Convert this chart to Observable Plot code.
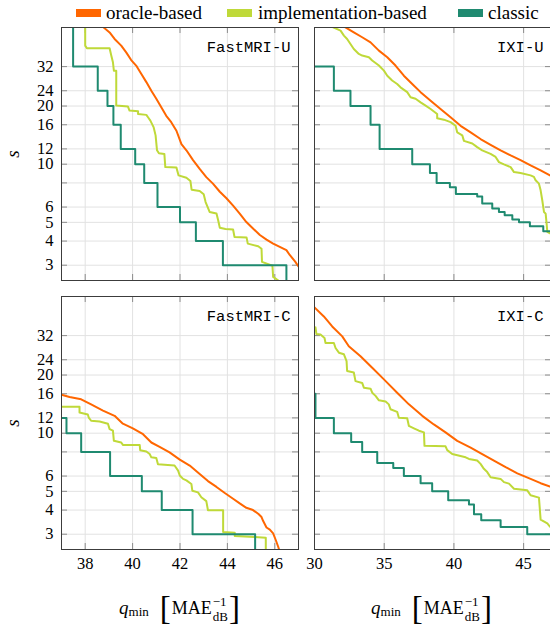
<!DOCTYPE html>
<html><head><meta charset="utf-8">
<script src="https://cdn.jsdelivr.net/npm/d3@7"></script>
<script src="https://cdn.jsdelivr.net/npm/@observablehq/plot@0.6"></script>
<style>
html,body{margin:0;padding:0;background:#fff;}
#root{position:relative;width:550px;height:627px;overflow:hidden;font-family:"Liberation Serif",serif;color:#000;}
.panel{position:absolute;}
svg.panel{font-family:"Liberation Serif",serif !important;font-size:16.5px !important;}
.sw{position:absolute;top:9px;width:25px;height:8px;}
.lt{position:absolute;top:2px;font-size:19px;line-height:21px;white-space:nowrap;}
.ylab{position:absolute;width:20px;height:20px;line-height:20px;text-align:center;font-style:italic;font-size:19px;transform:rotate(-90deg);}
.xlab{position:absolute;top:588px;height:40px;display:flex;align-items:center;white-space:nowrap;transform:translateX(-50%);font-size:18px;line-height:40px;}
.xlab .q{font-style:italic;font-size:19px;}
.xlab .sub{font-size:13px;position:relative;top:4px;margin-right:10px;}
.xlab .br{font-size:33px;font-weight:normal;margin:0 1px;}
.xlab .ss{display:inline-flex;flex-direction:column;font-size:13px;line-height:13px;margin-left:1px;}
.xlab .ss .sb{position:relative;top:2px;}
</style>
</head><body>
<div id="root"></div>
<script>
const methods = ["oracle-based", "implementation-based", "classic"];
const colors = ["#ff6600", "#bfd939", "#1f8a70"];
const yTicks = [3, 4, 5, 6, 8, 10, 12, 16, 20, 24, 32];
const sDomain = [2.5, 51];
const xTicksFast = [38, 40, 42, 44, 46];
const xTicksIXI = [30, 35, 40, 45];
const xDomainFast = [37, 47];
const xDomainIXI = [30, 47];

// FastMRI-U
const fastU_oracle_q = [38.77, 39.03, 39.24, 39.52, 39.73, 39.94, 40.15, 40.37, 40.58, 40.79, 41.00, 41.21, 41.42, 41.63, 41.85, 42.06, 42.27, 42.55, 42.83, 43.11, 43.39, 43.68, 43.96, 44.24, 44.52, 44.80, 45.08, 45.37, 45.65, 45.93, 46.21, 46.49, 46.63, 46.86, 47.0];
const fastU_oracle_s = [51.1, 48.1, 44.5, 41.1, 37.9, 34.6, 32.4, 29.3, 26.6, 24.0, 21.8, 19.7, 17.8, 16.5, 14.9, 12.7, 11.8, 10.5, 9.45, 8.57, 7.93, 7.2, 6.66, 6.1, 5.55, 5.02, 4.65, 4.3, 4.07, 3.88, 3.73, 3.59, 3.39, 3.13, 2.96];
const fastU_impl_q = [38.0, 38.0, 38.07, 39.03, 39.10, 39.17, 39.21, 39.31, 39.31, 39.80, 39.87, 40.23, 40.23, 40.58, 40.65, 40.75, 40.89, 40.97, 41.03, 41.11, 41.34, 41.38, 41.85, 41.94, 42.27, 42.44, 42.49, 42.83, 43.00, 43.08, 43.25, 43.54, 43.61, 43.68, 43.92, 44.24, 44.30, 44.81, 44.86, 45.30, 45.44, 45.46, 45.90, 45.93, 46.15];
const fastU_impl_s = [51, 41.1, 39.8, 39.8, 36.5, 33.7, 30.5, 30.5, 20.1, 19.9, 18.96, 18.8, 18.2, 18.0, 17.5, 16.8, 15.5, 14.1, 11.8, 11.4, 11.3, 9.66, 9.6, 8.75, 8.5, 8.18, 7.38, 7.27, 6.98, 6.37, 5.66, 5.55, 5.12, 4.69, 4.62, 4.59, 4.2, 4.17, 3.88, 3.76, 3.65, 3.12, 2.98, 2.61, 2.5];
const fastU_classic_q = [37.49, 37.49, 38.53, 38.94, 39.19, 39.50, 40.11, 40.49, 41.05, 42.0, 42.67, 43.81, 46.49];
const fastU_classic_s = [51, 32, 24, 20, 16, 12, 10, 8, 6, 5, 4, 3, 2.5];

// IXI-U
const ixiU_oracle_q = [32.22, 32.82, 33.42, 34.02, 34.62, 35.22, 35.81, 36.41, 37.01, 37.61, 38.33, 39.04, 39.76, 40.48, 41.20, 41.91, 42.63, 43.35, 44.07, 44.78, 45.50, 46.22, 46.89, 47.0];
const ixiU_oracle_s = [51.1, 48.1, 45.4, 42.7, 38.7, 35.8, 32.4, 28.7, 26.0, 23.6, 21.3, 19.3, 17.5, 15.8, 14.6, 13.5, 12.6, 11.8, 11.1, 10.5, 9.85, 9.28, 8.75, 8.68];
const ixiU_impl_q = [31.34, 31.87, 32.11, 32.34, 32.58, 32.82, 33.18, 33.42, 33.90, 34.14, 34.62, 34.98, 35.22, 35.57, 35.93, 36.17, 36.65, 36.89, 37.25, 37.61, 37.97, 38.33, 38.80, 38.80, 39.28, 39.76, 40.12, 40.24, 40.60, 40.72, 41.32, 41.67, 42.03, 42.63, 42.99, 43.23, 43.59, 44.07, 44.31, 44.78, 45.50, 45.74, 45.86, 46.10, 46.22, 46.34, 46.46, 46.58, 46.65, 46.70, 46.89, 47.0];
const ixiU_impl_s = [51.1, 49.1, 46.3, 44.5, 41.9, 39.5, 37.2, 36.5, 35.8, 34.4, 32.4, 30.5, 28.7, 27.1, 26.0, 25.0, 23.6, 22.2, 21.8, 20.9, 20.1, 19.3, 18.2, 17.3, 17.0, 16.5, 15.8, 14.6, 14.1, 13.2, 12.8, 12.25, 11.8, 11.3, 10.9, 10.25, 9.97, 9.66, 9.1, 9.0, 8.75, 8.6, 8.25, 7.93, 7.32, 6.49, 5.66, 5.55, 4.92, 4.46, 4.39, 4.39];
const ixiU_classic_q = [30, 31.39, 32.58, 34.02, 34.67, 37.01, 38.28, 38.76, 39.71, 40.14, 41.67, 42.03, 42.75, 43.23, 43.64, 44.19, 44.67, 45.45, 46.41, 47];
const ixiU_classic_s = [32, 24, 20, 16, 12, 10, 9, 8, 7.6, 7, 6.8, 6.25, 5.9, 5.66, 5.44, 5.17, 5, 4.77, 4.5, 4.5];

// FastMRI-C
const fastC_oracle_q = [37.0, 37.34, 37.83, 38.25, 38.75, 39.24, 39.59, 40.01, 40.44, 40.79, 41.14, 41.56, 41.99, 42.41, 42.83, 43.18, 43.54, 43.89, 44.24, 44.52, 44.80, 45.08, 45.30, 45.44, 45.51, 45.65, 45.79, 45.93, 46.04, 46.14, 46.18];
const fastC_oracle_s = [15.8, 15.4, 14.98, 14.1, 13.1, 12.3, 11.2, 10.6, 9.88, 8.95, 8.5, 7.95, 7.3, 6.8, 6.15, 5.65, 5.27, 4.9, 4.58, 4.33, 4.11, 4.0, 3.83, 3.68, 3.51, 3.25, 3.17, 3.03, 2.8, 2.59, 2.5];
const fastC_impl_q = [37.0, 37.76, 37.76, 38.11, 38.15, 38.25, 38.61, 38.96, 39.03, 39.17, 39.21, 39.52, 39.59, 40.30, 40.32, 40.58, 40.72, 40.79, 41.00, 41.07, 41.77, 41.92, 41.99, 42.13, 42.27, 42.48, 42.52, 42.76, 42.90, 43.11, 43.18, 43.82, 43.82, 44.31, 44.31, 45.15, 45.62, 45.62];
const fastC_impl_s = [13.7, 13.7, 12.8, 12.5, 12.05, 11.6, 11.5, 11.2, 10.5, 10.3, 9.13, 8.95, 8.7, 8.7, 8.17, 8.04, 7.8, 7.5, 7.45, 6.9, 6.8, 6.4, 6.04, 5.8, 5.7, 5.46, 5.04, 4.94, 4.66, 4.45, 3.99, 3.99, 3.08, 3.05, 2.94, 2.9, 2.88, 2.5];
const fastC_classic_q = [37.0, 37.21, 37.83, 39.05, 40.39, 41.23, 42.53, 45.17];
const fastC_classic_s = [12, 10, 8, 6, 5, 4, 3, 2.5];

// IXI-C
const ixiC_oracle_q = [30.0, 30.67, 31.27, 31.99, 32.46, 33.30, 34.14, 34.98, 35.93, 36.77, 37.73, 38.56, 39.40, 40.24, 41.20, 42.03, 42.87, 43.71, 44.55, 45.50, 46.22, 46.89, 47.0];
const ixiC_oracle_s = [44.8, 40.2, 35.7, 31.7, 28.2, 25.0, 21.8, 19.0, 16.2, 14.1, 12.3, 11.1, 10.1, 9.13, 8.43, 7.8, 7.22, 6.67, 6.2, 5.8, 5.51, 5.3, 5.27];
const ixiC_impl_q = [30.07, 30.14, 30.43, 30.72, 30.79, 31.39, 31.51, 31.75, 32.11, 32.30, 32.34, 32.82, 32.94, 33.42, 33.54, 34.02, 34.14, 34.38, 34.62, 35.10, 35.33, 35.45, 35.93, 36.05, 36.65, 36.77, 37.13, 37.49, 37.85, 37.89, 39.40, 39.52, 39.88, 40.84, 41.08, 41.67, 41.91, 42.15, 42.39, 42.63, 43.35, 43.59, 43.95, 44.31, 45.26, 45.50, 46.10, 46.22, 46.70, 46.89, 47.0];
const ixiC_impl_s = [35.3, 32.6, 32.4, 31.1, 29.3, 29.3, 27.6, 26.1, 25.6, 23.6, 21.0, 20.6, 18.6, 18.2, 17.2, 17.0, 16.2, 15.6, 14.8, 14.6, 14.1, 13.3, 12.9, 12.03, 11.95, 10.9, 10.6, 10.3, 10.1, 8.6, 8.55, 8.17, 7.8, 7.5, 7.36, 7.22, 6.94, 6.54, 6.29, 5.92, 5.8, 5.58, 5.48, 5.16, 5.06, 4.77, 4.64, 3.57, 3.41, 3.28, 3.27];
const ixiC_classic_q = [30.07, 30.07, 31.39, 32.63, 33.42, 34.50, 35.65, 36.41, 37.61, 38.44, 39.59, 41.08, 41.44, 41.96, 43.35, 45.26, 47];
const ixiC_classic_s = [16, 12, 10, 9, 8, 7, 6.6, 6, 5.5, 5, 4.5, 4.28, 3.8, 3.54, 3.27, 3, 3];

const rows = (q, s) => q.map((v, i) => ({q: v, s: s[i]}));
const root = document.getElementById("root");
const FW = 237, FH = 253;

function panel(o) {
  const tickText = {tickSize: 0, tickPadding: 8, tickFormat: d => String(d), label: null, fill: "#000", fontFamily: "Liberation Serif", fontSize: 16.5};
  const marks = [
    Plot.gridX(o.xTicks, {stroke: "#e2e2e2", strokeOpacity: 1, strokeWidth: 1}),
    Plot.gridY(yTicks, {stroke: "#e2e2e2", strokeOpacity: 1, strokeWidth: 1}),
    Plot.ruleX(o.xTicks, {stroke: "#8c8c8c", insetTop: FH - 6}),
    Plot.ruleX(o.xTicks, {stroke: "#8c8c8c", insetBottom: FH - 6}),
    Plot.ruleY(yTicks, {stroke: "#8c8c8c", insetRight: FW - 6}),
    Plot.ruleY(yTicks, {stroke: "#8c8c8c", insetLeft: FW - 6}),
    Plot.line(rows(o.oq, o.os), {x: "q", y: "s", stroke: colors[0], strokeWidth: 2, clip: true}),
    Plot.line(rows(o.iq, o.is), {x: "q", y: "s", stroke: colors[1], strokeWidth: 2, clip: true}),
    Plot.line(rows(o.cq, o.cs), {x: "q", y: "s", stroke: colors[2], strokeWidth: 2, curve: "step-after", clip: true}),
    Plot.frame({stroke: "#3c3c3c", strokeWidth: 1}),
    Plot.text([o.label], {frameAnchor: "top-right", dx: -8, dy: 20, textAnchor: "end", lineAnchor: "middle", fontFamily: "Liberation Mono", fontSize: 15.5, fill: "#000"})
  ];
  if (o.showY) marks.push(Plot.axisY(yTicks, tickText));
  if (o.showX) marks.push(Plot.axisX(o.xTicks, tickText));
  const svg = Plot.plot({
    width: o.width, height: o.height,
    marginLeft: o.mL, marginRight: o.mR, marginTop: o.mT, marginBottom: o.mB,
    style: {background: "transparent", color: "#000", overflow: "visible"},
    x: {domain: o.xDomain, axis: null},
    y: {type: "log", domain: sDomain, axis: null},
    marks
  });
  svg.classList.add("panel");
  svg.style.left = o.left + "px";
  svg.style.top = o.top + "px";
  root.appendChild(svg);
}

panel({label: "FastMRI-U", left: 0, top: 0, width: 310, height: 290, mL: 61, mR: 12, mT: 27, mB: 10,
  xDomain: xDomainFast, xTicks: xTicksFast, showY: true, showX: false,
  oq: fastU_oracle_q, os: fastU_oracle_s, iq: fastU_impl_q, is: fastU_impl_s, cq: fastU_classic_q, cs: fastU_classic_s});
panel({label: "IXI-U", left: 300, top: 0, width: 251, height: 290, mL: 14, mR: 0, mT: 27, mB: 10,
  xDomain: xDomainIXI, xTicks: xTicksIXI, showY: false, showX: false,
  oq: ixiU_oracle_q, os: ixiU_oracle_s, iq: ixiU_impl_q, is: ixiU_impl_s, cq: ixiU_classic_q, cs: ixiU_classic_s});
panel({label: "FastMRI-C", left: 0, top: 290, width: 310, height: 290, mL: 61, mR: 12, mT: 6, mB: 31,
  xDomain: xDomainFast, xTicks: xTicksFast, showY: true, showX: true,
  oq: fastC_oracle_q, os: fastC_oracle_s, iq: fastC_impl_q, is: fastC_impl_s, cq: fastC_classic_q, cs: fastC_classic_s});
panel({label: "IXI-C", left: 300, top: 290, width: 251, height: 290, mL: 14, mR: 0, mT: 6, mB: 31,
  xDomain: xDomainIXI, xTicks: xTicksIXI, showY: false, showX: true,
  oq: ixiC_oracle_q, os: ixiC_oracle_s, iq: ixiC_impl_q, is: ixiC_impl_s, cq: ixiC_classic_q, cs: ixiC_classic_s});

// legend
const legendPos = [[76, 106], [227, 258], [458, 488]];
methods.forEach((m, i) => {
  const sw = document.createElement("div");
  sw.className = "sw"; sw.style.left = legendPos[i][0] + "px"; sw.style.background = colors[i];
  root.appendChild(sw);
  const t = document.createElement("div");
  t.className = "lt"; t.style.left = legendPos[i][1] + "px"; t.textContent = m;
  root.appendChild(t);
});

// y labels
[153.5, 422.5].forEach(cy => {
  const d = document.createElement("div");
  d.className = "ylab"; d.style.left = "3px"; d.style.top = (cy - 10) + "px"; d.textContent = "s";
  root.appendChild(d);
});

// x labels
[180, 432].forEach(cx => {
  const d = document.createElement("div");
  d.className = "xlab"; d.style.left = cx + "px";
  d.innerHTML = '<span class="q">q</span><span class="sub">min</span><span class="br">[</span><span>MAE</span><span class="ss"><span>\u22121</span><span class="sb">dB</span></span><span class="br">]</span>';
  root.appendChild(d);
});
</script>
</body></html>
